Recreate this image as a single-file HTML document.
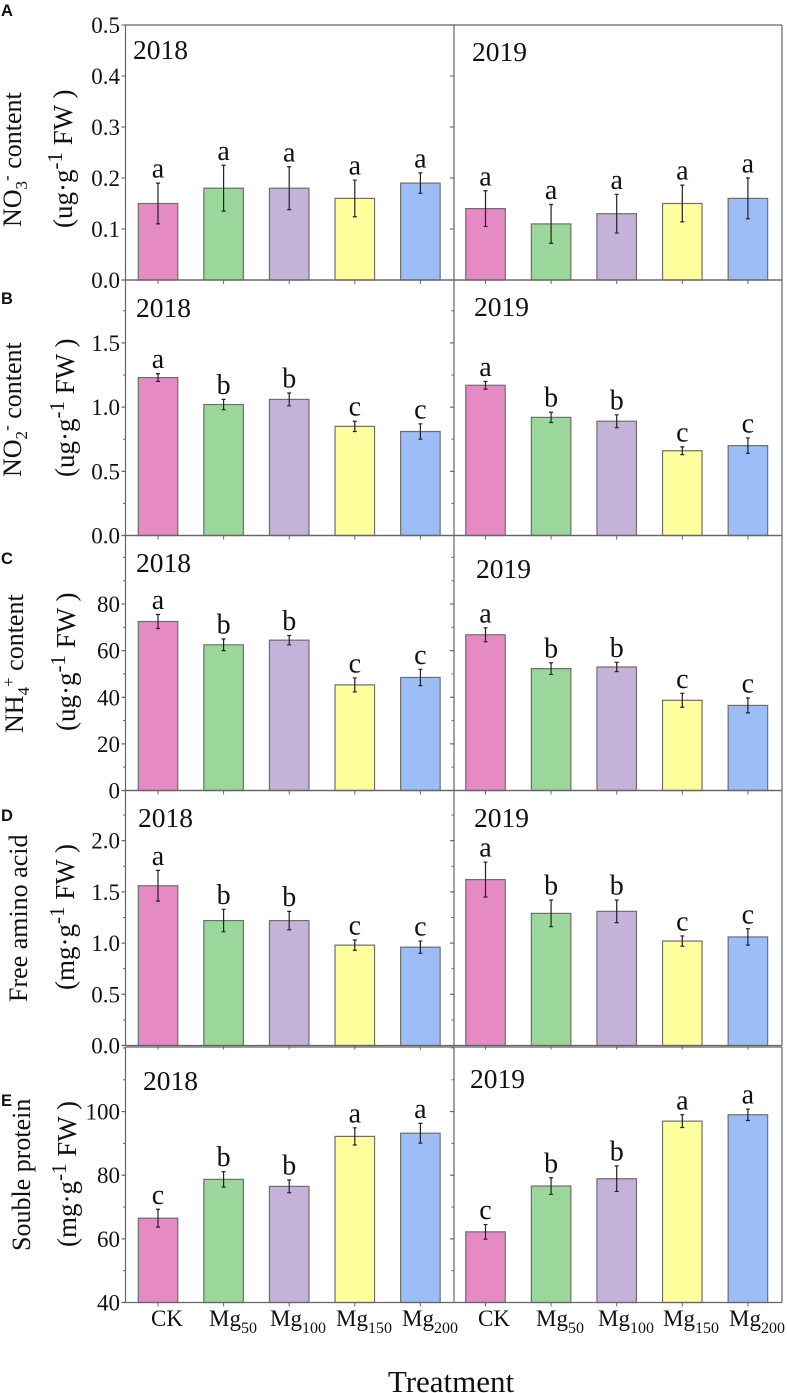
<!DOCTYPE html>
<html lang="en">
<head>
<meta charset="utf-8">
<title>Nitrogen metabolites by Mg treatment</title>
<style>
  html,body{margin:0;padding:0;background:#fff;}
  svg{display:block;font-family:"Liberation Serif",serif;fill:#111;}
  .panel-letter{font-family:"Liberation Sans",sans-serif;font-weight:bold;font-size:16.5px;}
  .ytitle{font-size:26px;}
  .yunit{font-size:27px;}
  .xlab{font-size:23px;}
</style>
</head>
<body>
<svg id="chart" width="787" height="1393" viewBox="0 0 787 1393" xmlns="http://www.w3.org/2000/svg">
  <rect width="787" height="1393" fill="#fff"/>
  <g id="marks"></g>

  <text class="panel-letter" x="1" y="16">A</text>
  <text class="panel-letter" x="1" y="304">B</text>
  <text class="panel-letter" x="1" y="564">C</text>
  <text class="panel-letter" x="1" y="821">D</text>
  <text class="panel-letter" x="1" y="1106">E</text>

  <text class="ytitle" transform="translate(21,227) rotate(-90)">NO<tspan font-size="17" dy="6">3</tspan><tspan font-size="17" dy="-15">-</tspan><tspan dy="9"> content</tspan></text>
  <text class="yunit" transform="translate(72,228) rotate(-90)">(ug·g<tspan font-size="21" dy="-10">-1</tspan><tspan dy="10"> FW )</tspan></text>

  <text class="ytitle" transform="translate(21,477) rotate(-90)">NO<tspan font-size="17" dy="6">2</tspan><tspan font-size="17" dy="-15">-</tspan><tspan dy="9"> content</tspan></text>
  <text class="yunit" transform="translate(74,477) rotate(-90)">(ug·g<tspan font-size="21" dy="-10">-1</tspan><tspan dy="10"> FW )</tspan></text>

  <text class="ytitle" transform="translate(23,733) rotate(-90)">NH<tspan font-size="17" dy="6">4</tspan><tspan font-size="17" dy="-15">+</tspan><tspan dy="9"> content</tspan></text>
  <text class="yunit" transform="translate(75,731) rotate(-90)">(ug·g<tspan font-size="21" dy="-10">-1</tspan><tspan dy="10"> FW )</tspan></text>

  <text class="ytitle" transform="translate(27,1002) rotate(-90)">Free amino acid</text>
  <text class="yunit" transform="translate(74,990) rotate(-90)">(mg·g<tspan font-size="21" dy="-10">-1</tspan><tspan dy="10"> FW )</tspan></text>

  <text class="ytitle" transform="translate(30,1251) rotate(-90)">Souble protein</text>
  <text class="yunit" transform="translate(76,1247) rotate(-90)">(mg·g<tspan font-size="21" dy="-10">-1</tspan><tspan dy="10"> FW )</tspan></text>

  <g>
    <text class="xlab" x="151" y="1326">CK</text>
    <text class="xlab" x="209" y="1326">Mg<tspan font-size="16" dy="7">50</tspan></text>
    <text class="xlab" x="270" y="1326">Mg<tspan font-size="16" dy="7">100</tspan></text>
    <text class="xlab" x="336" y="1326">Mg<tspan font-size="16" dy="7">150</tspan></text>
    <text class="xlab" x="402" y="1326">Mg<tspan font-size="16" dy="7">200</tspan></text>
    <text class="xlab" x="478" y="1326">CK</text>
    <text class="xlab" x="536" y="1326">Mg<tspan font-size="16" dy="7">50</tspan></text>
    <text class="xlab" x="598" y="1326">Mg<tspan font-size="16" dy="7">100</tspan></text>
    <text class="xlab" x="663" y="1326">Mg<tspan font-size="16" dy="7">150</tspan></text>
    <text class="xlab" x="729" y="1326">Mg<tspan font-size="16" dy="7">200</tspan></text>
  </g>
  <text x="451" y="1392" font-size="31" text-anchor="middle">Treatment</text>
</svg>

<script>
// ---- Data ----
const treatments = ['CK', 'Mg50', 'Mg100', 'Mg150', 'Mg200'];
const barColors = ['#E68AC4', '#9BD79B', '#C4B2D8', '#FFFF9E', '#9CBDF5'];

const a2018 = [0.15, 0.18, 0.18, 0.16, 0.19];
const a2018Err = [0.04, 0.045, 0.042, 0.036, 0.02];
const a2019 = [0.14, 0.11, 0.13, 0.15, 0.16];
const a2019Err = [0.035, 0.038, 0.038, 0.036, 0.04];
const aLetters = ['a', 'a', 'a', 'a', 'a'];
const aTicks = ['0.0', '0.1', '0.2', '0.3', '0.4', '0.5'];

const b2018 = [1.23, 1.02, 1.06, 0.85, 0.81];
const b2018Err = [0.03, 0.04, 0.05, 0.04, 0.06];
const b2019 = [1.17, 0.92, 0.89, 0.66, 0.70];
const b2019Err = [0.03, 0.04, 0.05, 0.03, 0.06];
const bLetters = ['a', 'b', 'b', 'c', 'c'];
const bTicks = ['0.0', '0.5', '1.0', '1.5'];

const c2018 = [72.5, 62.5, 64.5, 45.3, 48.5];
const c2018Err = [3, 2.5, 2, 3, 3.5];
const c2019 = [66.8, 52.3, 53, 38.7, 36.5];
const c2019Err = [3, 2.5, 2, 3, 3.2];
const cLetters = ['a', 'b', 'b', 'c', 'c'];
const cTicks = ['0', '20', '40', '60', '80'];

const d2018 = [1.56, 1.22, 1.22, 0.98, 0.96];
const d2018Err = [0.15, 0.11, 0.09, 0.05, 0.06];
const d2019 = [1.62, 1.29, 1.31, 1.02, 1.06];
const d2019Err = [0.17, 0.13, 0.11, 0.05, 0.08];
const dLetters = ['a', 'b', 'b', 'c', 'c'];
const dTicks = ['0.0', '0.5', '1.0', '1.5', '2.0'];

const e2018 = [66.5, 78.7, 76.5, 92.2, 93.2];
const e2018Err = [2.8, 2.4, 2, 2.7, 3.1];
const e2019 = [62.2, 76.6, 78.9, 97, 99];
const e2019Err = [2.3, 2.6, 4, 2, 1.8];
const eLetters = ['c', 'b', 'b', 'a', 'a'];
const eTicks = ['40', '60', '80', '100'];

const panelIds = ['a', 'b', 'c', 'd', 'e'];
const panelDomainMin = [0, 0, 0, 0, 40];
const panelDomainMax = [0.5, 1.99, 109.4, 2.49, 120.3];
const panelMinorStep = [0, 0.25, 10, 0.25, 10];
const panelTicks = [aTicks, bTicks, cTicks, dTicks, eTicks];
const panelLetters = [aLetters, bLetters, cLetters, dLetters, eLetters];
const panelSeries2018 = [a2018, b2018, c2018, d2018, e2018];
const panelErr2018 = [a2018Err, b2018Err, c2018Err, d2018Err, e2018Err];
const panelSeries2019 = [a2019, b2019, c2019, d2019, e2019];
const panelErr2019 = [a2019Err, b2019Err, c2019Err, d2019Err, e2019Err];

// ---- Layout (not data) ----
const panelTop = [25, 280, 535.5, 790.5, 1047];
const panelBottom = [280, 535.5, 790.5, 1045.5, 1302.5];
const yearPos2018 = [[133, 59], [136, 317], [136, 572], [138, 827], [143, 1090]];
const yearPos2019 = [[472, 61], [474, 316], [476, 578], [474, 827], [470, 1088]];
const AXIS = '#666';
const LEFT = 125.5, MID = 454, RIGHT = 782;
const BAR_W = 39.5;

const NS = 'http://www.w3.org/2000/svg';
const root = document.getElementById('marks');

function make(tag, attrs, parent) {
  const node = document.createElementNS(NS, tag);
  for (const k in attrs) node.setAttribute(k, attrs[k]);
  parent.appendChild(node);
  return node;
}
function xScale(i, yearIndex) {
  return (yearIndex === 0 ? 158 : 485.5) + i * 65.6;
}
function yScaleFor(p) {
  const lo = panelDomainMin[p], hi = panelDomainMax[p];
  return v => panelBottom[p] - (v - lo) / (hi - lo) * (panelBottom[p] - panelTop[p]);
}

function drawSeries(g, p, yearIndex, values, errs, letters, y) {
  const year = yearIndex === 0 ? '2018' : '2019';
  values.forEach((v, i) => {
    const cx = xScale(i, yearIndex);
    const yv = y(v);
    const base = panelBottom[p];
    const tick = make('line', {x1: cx, x2: cx, y1: base, y2: base + 4, stroke: AXIS, 'stroke-width': 1}, g);
    
    

    const bar = make('rect', {x: cx - BAR_W / 2, y: yv, width: BAR_W, height: base - yv,
      fill: barColors[i], stroke: '#6e6e6e', 'stroke-width': 1.2}, g);
    
    

    const top = y(v + errs[i]), bot = y(v - errs[i]);
    const err = make('path', {d: 'M' + (cx - 2) + ' ' + top + 'H' + (cx + 2) + 'M' + cx + ' ' + top + 'V' + bot +
      'M' + (cx - 2) + ' ' + bot + 'H' + (cx + 2), stroke: '#222', 'stroke-width': 1.2, fill: 'none'}, g);
    
    

    const label = make('text', {x: cx, y: top - 5.5, 'font-size': 28, 'text-anchor': 'middle'}, g);
    label.textContent = letters[i];
    
    
  });
}

panelIds.forEach((id, p) => {
  const g = make('g', {}, root);
  
  
  const y = yScaleFor(p);
  const T = panelTop[p], B = panelBottom[p];

  drawSeries(g, p, 0, panelSeries2018[p], panelErr2018[p], panelLetters[p], y);
  drawSeries(g, p, 1, panelSeries2019[p], panelErr2019[p], panelLetters[p], y);

  const frame = make('path', {d: 'M' + LEFT + ' ' + T + 'V' + B + 'M' + MID + ' ' + T + 'V' + B +
    'M' + RIGHT + ' ' + T + 'V' + B + 'M' + LEFT + ' ' + T + 'H' + RIGHT + 'M' + (LEFT - 4) + ' ' + B + 'H' + RIGHT,
    stroke: AXIS, 'stroke-width': 1.2, fill: 'none'}, g);
  
  

  const minor = panelMinorStep[p];
  if (minor > 0) {
    for (let v = panelDomainMin[p] + minor; v < panelDomainMax[p]; v += minor) {
      const m1 = make('line', {x1: LEFT - 2.5, x2: LEFT, y1: y(v), y2: y(v), stroke: AXIS, 'stroke-width': 1}, g);
      
      
      const m2 = make('line', {x1: MID - 2.5, x2: MID, y1: y(v), y2: y(v), stroke: AXIS, 'stroke-width': 1}, g);
      
      
    }
  }
  panelTicks[p].forEach(t => {
    const v = parseFloat(t);
    const yy = y(v);
    const t1 = make('line', {x1: LEFT - 4, x2: LEFT, y1: yy, y2: yy, stroke: AXIS, 'stroke-width': 1.1}, g);
    
    
    const t2 = make('line', {x1: MID - 4, x2: MID, y1: yy, y2: yy, stroke: AXIS, 'stroke-width': 1.1}, g);
    
    
    const lab = make('text', {x: 120, y: yy + 8, 'font-size': 23, 'text-anchor': 'end'}, g);
    lab.textContent = t;
    
    
  });

  const y18 = make('text', {x: yearPos2018[p][0], y: yearPos2018[p][1], 'font-size': 27.5}, g);
  y18.textContent = '2018';
  
  
  const y19 = make('text', {x: yearPos2019[p][0], y: yearPos2019[p][1], 'font-size': 27.5}, g);
  y19.textContent = '2019';
  
  
});
</script>
</body>
</html>
